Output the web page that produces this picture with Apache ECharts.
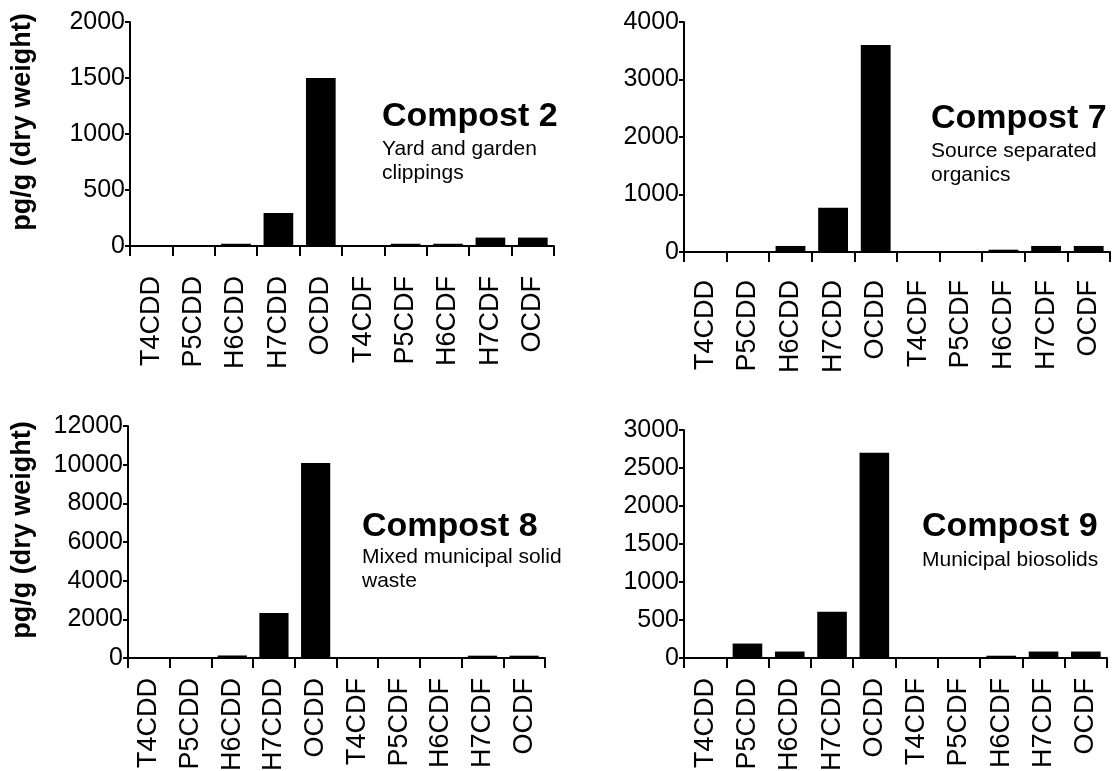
<!DOCTYPE html>
<html>
<head>
<meta charset="utf-8">
<script src="https://cdn.jsdelivr.net/npm/echarts@6/dist/echarts.min.js"></script>
<style>
  html, body { margin: 0; padding: 0; background: #fff; }
  #chart { width: 1117px; height: 771px; }
</style>
</head>
<body>
<div id="chart"></div>
<script>
// Congener categories (dioxins / furans)
const categories = ['T4CDD', 'P5CDD', 'H6CDD', 'H7CDD', 'OCDD', 'T4CDF', 'P5CDF', 'H6CDF', 'H7CDF', 'OCDF'];

// Concentrations, pg/g (dry weight)
const compost2 = [0, 0, 20, 295, 1500, 0, 20, 20, 75, 75];
const compost7 = [0, 0, 105, 770, 3600, 0, 0, 40, 105, 105];
const compost8 = [0, 0, 130, 2330, 10080, 0, 0, 0, 120, 120];
const compost9 = [0, 190, 85, 610, 2700, 0, 0, 30, 85, 85];

// Y-axis tick ranges per panel
const yMax = [2000, 4000, 12000, 3000];
const yStep = [500, 1000, 2000, 500];

const panelNames = ['Compost 2', 'Compost 7', 'Compost 8', 'Compost 9'];
const panelDescriptions = [
  'Yard and garden\nclippings',
  'Source separated\norganics',
  'Mixed municipal solid\nwaste',
  'Municipal biosolids'
];
const yAxisName = 'pg/g (dry weight)';

const seriesData = [compost2, compost7, compost8, compost9];

const FONT = '"Liberation Sans", Arial, Helvetica, sans-serif';

// panel layout
const grids = [
  { left: 130, top: 22, width: 424, height: 224 },
  { left: 684, top: 22, width: 426, height: 230 },
  { left: 128, top: 426, width: 417, height: 232 },
  { left: 684, top: 430, width: 423, height: 228 }
];
const labelMargins = [30, 28, 20, 20];
const nameGaps = [94, 0, 92, 0];
const titlePos = [
  { left: 382, top: 100, gap: 3 },
  { left: 931, top: 102, gap: 3 },
  { left: 362, top: 510, gap: 1 },
  { left: 922, top: 510, gap: 4 }
];

const black = '#000';

const option = {
  animation: false,
  backgroundColor: '#fff',
  title: panelNames.map((name, i) => ({
    text: name,
    subtext: panelDescriptions[i],
    left: titlePos[i].left,
    top: titlePos[i].top,
    padding: 0,
    itemGap: titlePos[i].gap,
    textStyle: { fontFamily: FONT, fontWeight: 'bold', fontSize: 34, lineHeight: 34, color: black },
    subtextStyle: { fontFamily: FONT, fontSize: 21, lineHeight: 24, color: black }
  })),
  grid: grids.map(g => Object.assign({ outerBoundsMode: 'none', containLabel: false }, g)),
  xAxis: grids.map((g, i) => ({
    gridIndex: i,
    type: 'category',
    data: categories,
    boundaryGap: true,
    axisLine: { show: true, lineStyle: { color: black, width: 2 } },
    axisTick: { show: true, interval: 0, alignWithLabel: false, length: 10, lineStyle: { color: black, width: 2 } },
    axisLabel: {
      interval: 0, rotate: 90, margin: labelMargins[i],
      padding: [0, 0, 10, 0],
      fontFamily: FONT, fontSize: 27, color: black
    },
    splitLine: { show: false }
  })),
  yAxis: grids.map((g, i) => ({
    gridIndex: i,
    type: 'value',
    min: 0,
    max: yMax[i],
    interval: yStep[i],
    name: (i % 2 === 0) ? yAxisName : '',
    nameLocation: 'middle',
    nameRotate: 90,
    nameGap: nameGaps[i],
    nameTextStyle: { fontFamily: FONT, fontWeight: 'bold', fontSize: 27, color: black, padding: [0, 0, 0, 24] },
    axisLine: { show: true, lineStyle: { color: black, width: 2 } },
    axisTick: { show: true, length: 5, lineStyle: { color: black, width: 2 } },
    axisLabel: {
      margin: 5, fontFamily: FONT, fontSize: 25, color: black,
      formatter: v => String(v)
    },
    splitLine: { show: false }
  })),
  series: seriesData.map((d, i) => ({
    type: 'bar',
    xAxisIndex: i,
    yAxisIndex: i,
    data: d,
    barWidth: '70%',
    silent: true,
    itemStyle: { color: black }
  }))
};

const chart = echarts.init(document.getElementById('chart'), null, { renderer: 'canvas' });
chart.setOption(option);
</script>
</body>
</html>
